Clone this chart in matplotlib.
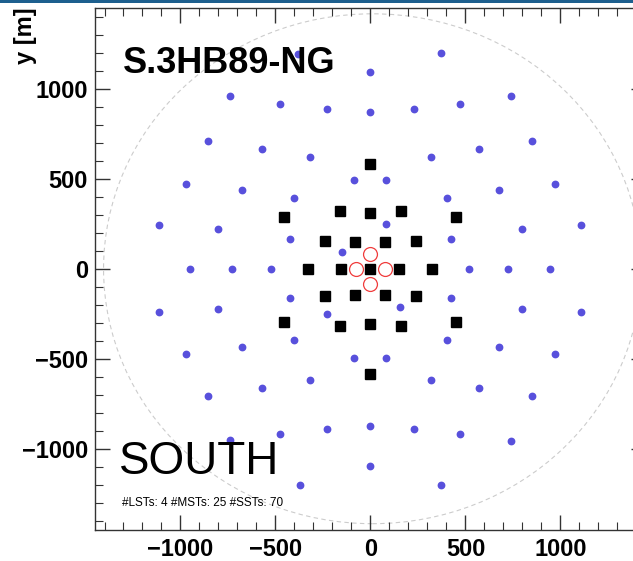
import numpy as np
import matplotlib
matplotlib.use('Agg')
import matplotlib.pyplot as plt
from matplotlib.patches import Circle, Rectangle
from matplotlib.ticker import MultipleLocator

plt.rcParams['font.family'] = ['Liberation Sans', 'DejaVu Sans']

# telescope positions [m]
lst_x = [0, -78, 78, 0]
lst_y = [83, 0, 0, -83]

mst_x = [0, -453, -163, 0, 161, 451, -240, -79, 74, 237, -328, -153, 0, 149, 325,
         -240, -79, 74, 237, -453, -163, 0, 161, 451, 0]
mst_y = [583, 290, 318, 309, 318, 290, 153, 148, 148, 153, 0, 0, 0, 0, 0,
         -154, -145, -145, -154, -293, -315, -306, -315, -293, -583]

sst_x = [370, 0, -379, -742, -474, -228, 0, 228, 472, 740,
         -853, -570, -321, 319, 570, 849,
         -973, -676, -405, -86, 84, 403, 674, 971,
         -1114, -800, -426, 80, 425, 796, 1110, -148,
         -948, -727, -523, 521, 725, 944,
         -426, 425, -1114, -800, 796, 1110, 157, -231,
         -973, -676, -405, -86, 84, 403, 674, 971,
         -853, -570, -321, 319, 570, 849,
         -474, -228, 0, 228, 472, 740, -742,
         0, -372, 370]
sst_y = [1197, 1093, 1193, 958, 916, 884, 871, 884, 916, 958,
         708, 664, 620, 620, 664, 708,
         471, 435, 392, 495, 495, 392, 435, 471,
         241, 221, 165, 248, 165, 221, 241, 95,
         0, 0, 0, 0, 0, 0,
         -165, -165, -241, -221, -221, -241, -213, -250,
         -473, -437, -394, -495, -495, -394, -437, -473,
         -708, -664, -620, -620, -664, -708,
         -918, -887, -873, -887, -918, -958, -950,
         -1093, -1199, -1199]

layout_name = 'S.3HB89-NG'
site = 'SOUTH'
counts = '#LSTs: %d #MSTs: %d #SSTs: %d' % (len(lst_x), len(mst_x), len(sst_x))

fig = plt.figure(figsize=(6.33, 5.61), dpi=100)
ax = fig.add_axes([95/633., 31/561., 551/633., 522.5/561.])

# outer reference circle
ax.add_patch(Circle((10, 0), 1415, fill=False, ls=(0, (4, 3)), lw=0.8, color='#cccccc'))

ax.plot(sst_x, sst_y, 'o', ms=4.6, color='#5850dc', mec='#5850dc', ls='none')
ax.plot(mst_x, mst_y, 's', ms=7, color='black', ls='none')
ax.plot(lst_x, lst_y, 'o', ms=10, mfc='none', mec='#f03c3c', mew=0.9, ls='none')

ax.set_xlim(-1450, 1450)
ax.set_ylim(-1450, 1450)

ax.xaxis.set_major_locator(MultipleLocator(500))
ax.yaxis.set_major_locator(MultipleLocator(500))
ax.xaxis.set_minor_locator(MultipleLocator(100))
ax.yaxis.set_minor_locator(MultipleLocator(100))
ax.tick_params(which='both', direction='in', top=True, right=True, color='#333333')
ax.tick_params(which='major', length=11, width=1.0)
ax.tick_params(which='minor', length=5.5, width=0.8)
ax.tick_params(axis='x', which='major', labelsize=17, pad=5.5)
ax.tick_params(axis='y', which='major', labelsize=17, pad=5)
for lab in ax.get_xticklabels() + ax.get_yticklabels():
	lab.set_fontweight('bold')
for sp in ax.spines.values():
	sp.set_color('#333333')
	sp.set_linewidth(1.0)

ax.set_ylabel('y [m]', fontsize=17, fontweight='bold', loc='top')
ax.yaxis.set_label_coords(-0.105, 1.0)

ax.text(0.051, 0.874, layout_name, transform=ax.transAxes, fontsize=26, fontweight='bold', va='baseline')
ax.text(0.0435, 0.107, site, transform=ax.transAxes, fontsize=33, va='baseline')
ax.text(0.049, 0.046, counts, transform=ax.transAxes, fontsize=8.5, va='baseline')

# page border line at the top of the screenshot
fig.add_artist(Rectangle((0, 1 - 3/561.), 1, 3/561., transform=fig.transFigure, color='#1d5f8e', lw=0))

plt.savefig('out.png', dpi=100)
